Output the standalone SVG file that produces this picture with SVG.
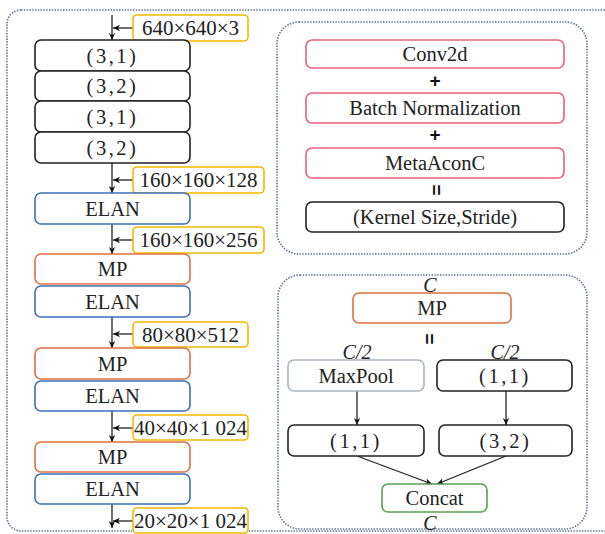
<svg xmlns="http://www.w3.org/2000/svg" width="605" height="534" viewBox="0 0 605 534">
<defs>
<marker id="ah" markerWidth="8" markerHeight="8" refX="7" refY="4" orient="auto" markerUnits="userSpaceOnUse">
<path d="M0,0.8 L7,4 L0,7.2 L2,4 Z" fill="#111"/>
</marker>
<style>
.panel{fill:none;stroke:#5a6f8c;stroke-width:1.6;stroke-dasharray:1.4 1.4}
.box{fill:#fff;stroke-width:1.6}
.blk{stroke:#222}
.mp{stroke:#e07040}
.elan{stroke:#3a70b8}
.conv{stroke:#e8607a}
.lbl{fill:#fff;stroke:#f5b800;stroke-width:1.6}
.gray{stroke:#a8b4bc}
.green{stroke:#5aa050}
text{font-family:"Liberation Serif","Times New Roman",serif;font-size:20.5px;fill:#222;text-anchor:middle;dominant-baseline:central}
.sz{font-size:21px}
.sp{letter-spacing:2.5px}
.it{font-style:italic;font-size:20px}
.sym{font-family:"Liberation Sans",Arial,sans-serif;font-weight:bold;font-size:19px;fill:#111}
.ln{stroke:#222;stroke-width:1.3;fill:none}
</style>
</defs>

<rect class="panel" x="7" y="10" width="612" height="521" rx="14"/>
<rect class="panel" x="277" y="22" width="310" height="232" rx="22"/>
<rect class="panel" x="278" y="275" width="309" height="254" rx="22"/>

<g id="connectors">
<line class="ln" x1="112" y1="15" x2="112" y2="40" marker-end="url(#ah)"/>
<line class="ln" x1="112" y1="163" x2="112" y2="193" marker-end="url(#ah)"/>
<line class="ln" x1="112" y1="224" x2="112" y2="254" marker-end="url(#ah)"/>
<line class="ln" x1="112" y1="317" x2="112" y2="348" marker-end="url(#ah)"/>
<line class="ln" x1="112" y1="411" x2="112" y2="442" marker-end="url(#ah)"/>
<line class="ln" x1="112" y1="504" x2="112" y2="528" marker-end="url(#ah)"/>
<line class="ln" x1="133" y1="28" x2="113" y2="28" marker-end="url(#ah)"/>
<line class="ln" x1="133" y1="180" x2="113" y2="180" marker-end="url(#ah)"/>
<line class="ln" x1="133" y1="240" x2="113" y2="240" marker-end="url(#ah)"/>
<line class="ln" x1="133" y1="334" x2="113" y2="334" marker-end="url(#ah)"/>
<line class="ln" x1="133" y1="428" x2="113" y2="428" marker-end="url(#ah)"/>
<line class="ln" x1="133" y1="521" x2="113" y2="521" marker-end="url(#ah)"/>
<line class="ln" x1="357" y1="391" x2="357" y2="425" marker-end="url(#ah)"/>
<line class="ln" x1="506" y1="391" x2="506" y2="425" marker-end="url(#ah)"/>
<line class="ln" x1="357" y1="456" x2="432" y2="484" marker-end="url(#ah)"/>
<line class="ln" x1="506" y1="456" x2="437" y2="484" marker-end="url(#ah)"/>
</g>

<g id="in-size"><rect class="lbl" x="133" y="15" width="115" height="26" rx="4"/><text class="sz" x="190.5" y="28">640×640×3</text></g>
<g id="c1"><rect class="box blk" x="35" y="40" width="155" height="31" rx="6"/><text class="sp" x="112.5" y="55.5">(3,1)</text></g>
<g id="c2"><rect class="box blk" x="35" y="71" width="155" height="30" rx="6"/><text class="sp" x="112.5" y="86">(3,2)</text></g>
<g id="c3"><rect class="box blk" x="35" y="101" width="155" height="31" rx="6"/><text class="sp" x="112.5" y="116.5">(3,1)</text></g>
<g id="c4"><rect class="box blk" x="35" y="132" width="155" height="31" rx="6"/><text class="sp" x="112.5" y="147.5">(3,2)</text></g>
<g id="s1"><rect class="lbl" x="133" y="167" width="131" height="26" rx="4"/><text class="sz" x="198.5" y="180">160×160×128</text></g>
<g id="elan1"><rect class="box elan" x="35" y="193" width="155" height="31" rx="6"/><text x="112.5" y="208.5">ELAN</text></g>
<g id="s2"><rect class="lbl" x="133" y="227" width="131" height="26" rx="4"/><text class="sz" x="198.5" y="240">160×160×256</text></g>
<g id="mp1"><rect class="box mp" x="35" y="254" width="155" height="30" rx="6"/><text x="112.5" y="269">MP</text></g>
<g id="elan2"><rect class="box elan" x="35" y="286" width="155" height="31" rx="6"/><text x="112.5" y="301.5">ELAN</text></g>
<g id="s3"><rect class="lbl" x="133" y="322" width="115" height="25" rx="4"/><text class="sz" x="190.5" y="334.5">80×80×512</text></g>
<g id="mp2"><rect class="box mp" x="35" y="348" width="155" height="31" rx="6"/><text x="112.5" y="363.5">MP</text></g>
<g id="elan3"><rect class="box elan" x="35" y="381" width="155" height="30" rx="6"/><text x="112.5" y="396">ELAN</text></g>
<g id="s4"><rect class="lbl" x="133" y="415" width="115" height="25" rx="4"/><text class="sz" x="190.5" y="427.5">40×40×1 024</text></g>
<g id="mp3"><rect class="box mp" x="35" y="442" width="155" height="30" rx="6"/><text x="112.5" y="457">MP</text></g>
<g id="elan4"><rect class="box elan" x="35" y="474" width="155" height="30" rx="6"/><text x="112.5" y="489">ELAN</text></g>
<g id="s5"><rect class="lbl" x="133" y="508" width="115" height="25" rx="4"/><text class="sz" x="190.5" y="520.5">20×20×1 024</text></g>

<g id="conv2d"><rect class="box conv" x="306" y="40" width="258" height="28" rx="6"/><text x="435" y="54">Conv2d</text></g>
<text class="sym" x="435" y="80">+</text>
<g id="bn"><rect class="box conv" x="306" y="93" width="258" height="30" rx="6"/><text x="435" y="108">Batch Normalization</text></g>
<text class="sym" x="435" y="134">+</text>
<g id="meta"><rect class="box conv" x="306" y="148" width="258" height="30" rx="6"/><text x="435" y="163">MetaAconC</text></g>
<text class="sym" transform="translate(436,190) rotate(90)" x="0" y="0">=</text>
<g id="ks"><rect class="box blk" x="306" y="202" width="258" height="30" rx="6"/><text x="435" y="217">(Kernel Size,Stride)</text></g>

<text class="it" x="430" y="285">C</text>
<g id="mpdef"><rect class="box mp" x="353" y="293" width="158" height="30" rx="6"/><text x="432" y="308">MP</text></g>
<text class="sym" transform="translate(429,339) rotate(90)" x="0" y="0">=</text>
<text class="it" x="357" y="352">C/2</text>
<text class="it" x="505" y="352">C/2</text>
<g id="maxpool"><rect class="box gray" x="288" y="360" width="136" height="31" rx="6"/><text x="356" y="375.5">MaxPool</text></g>
<g id="r11"><rect class="box blk" x="437" y="360" width="135" height="31" rx="6"/><text class="sp" x="505" y="375.5">(1,1)</text></g>
<g id="l11"><rect class="box blk" x="288" y="425" width="136" height="31" rx="6"/><text class="sp" x="356" y="440.5">(1,1)</text></g>
<g id="r32"><rect class="box blk" x="439" y="425" width="133" height="31" rx="6"/><text class="sp" x="505.5" y="440.5">(3,2)</text></g>
<g id="concat"><rect class="box green" x="382" y="484" width="105" height="28" rx="6"/><text x="434.5" y="498">Concat</text></g>
<text class="it" x="430" y="523">C</text>
</svg>
